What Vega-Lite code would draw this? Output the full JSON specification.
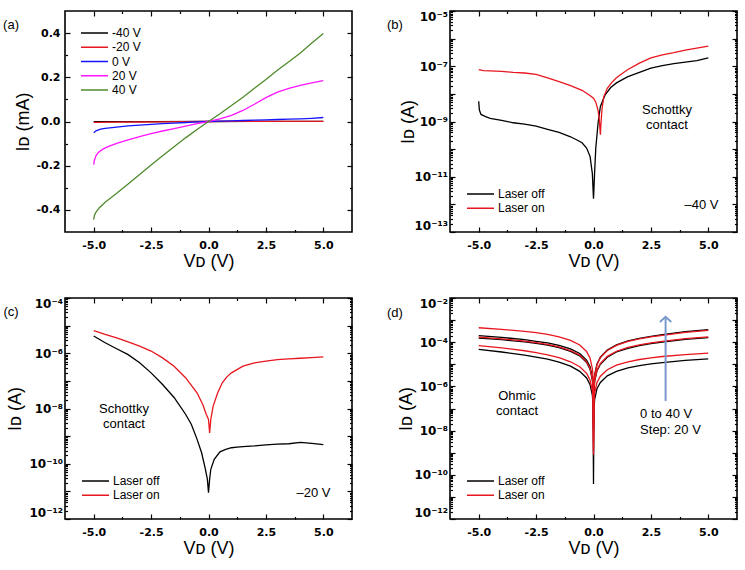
{
  "$schema": "https://vega.github.io/schema/vega-lite/v6.json",
  "background": "white",
  "padding": {"left": 2, "top": 9, "right": 0, "bottom": 0},
  "columns": 2,
  "spacing": {"row": 25, "column": 32},
  "resolve": {"scale": {"x": "independent", "y": "independent", "color": "independent"}, "legend": {"color": "independent"}},
  "config": {
    "font": "Liberation Sans",
    "view": {"stroke": "#000000", "strokeWidth": 1.6},
    "axis": {"grid": false, "domain": false, "tickColor": "#000000", "tickWidth": 1.2, "labelFont": "DejaVu Sans", "labelFontWeight": "bold", "labelFontSize": 11, "labelColor": "#000000", "titleFont": "Liberation Sans", "titleFontWeight": "normal", "titleFontSize": 18, "titleColor": "#000000", "labelOverlap": false, "labelFlush": false},
    "legend": {"symbolType": "stroke", "symbolSize": 729, "symbolStrokeWidth": 1.5, "clipHeight": 14, "rowPadding": 0.25, "padding": 0, "labelFont": "Liberation Sans", "labelFontSize": 12, "labelColor": "#000000", "labelOffset": 3},
    "text": {"font": "Liberation Sans", "fontSize": 13, "color": "#000000"}
  },
  "datasets": {
    "a": [
      {"vg": "-40 V", "vd": -5, "id": -0.001}, {"vg": "-40 V", "vd": -2.5, "id": -0.0006}, {"vg": "-40 V", "vd": 0, "id": 0}, {"vg": "-40 V", "vd": 2.5, "id": 0.0003}, {"vg": "-40 V", "vd": 5, "id": 0.0005},
      {"vg": "-20 V", "vd": -5, "id": -0.004}, {"vg": "-20 V", "vd": -4, "id": -0.003}, {"vg": "-20 V", "vd": -3, "id": -0.0022}, {"vg": "-20 V", "vd": -2, "id": -0.0015}, {"vg": "-20 V", "vd": -1, "id": -0.0008}, {"vg": "-20 V", "vd": 0, "id": 0}, {"vg": "-20 V", "vd": 1, "id": 0.0003}, {"vg": "-20 V", "vd": 2, "id": 0.0005}, {"vg": "-20 V", "vd": 3, "id": 0.0007}, {"vg": "-20 V", "vd": 4, "id": 0.0008}, {"vg": "-20 V", "vd": 5, "id": 0.001},
      {"vg": "0 V", "vd": -5, "id": -0.051}, {"vg": "0 V", "vd": -4.9, "id": -0.042}, {"vg": "0 V", "vd": -4.7, "id": -0.035}, {"vg": "0 V", "vd": -4.5, "id": -0.031}, {"vg": "0 V", "vd": -4, "id": -0.025}, {"vg": "0 V", "vd": -3.5, "id": -0.02}, {"vg": "0 V", "vd": -3, "id": -0.016}, {"vg": "0 V", "vd": -2.5, "id": -0.013}, {"vg": "0 V", "vd": -2, "id": -0.01}, {"vg": "0 V", "vd": -1.5, "id": -0.007}, {"vg": "0 V", "vd": -1, "id": -0.0045}, {"vg": "0 V", "vd": -0.5, "id": -0.002}, {"vg": "0 V", "vd": 0, "id": 0}, {"vg": "0 V", "vd": 0.5, "id": 0.0015}, {"vg": "0 V", "vd": 1, "id": 0.003}, {"vg": "0 V", "vd": 1.5, "id": 0.0045}, {"vg": "0 V", "vd": 2, "id": 0.006}, {"vg": "0 V", "vd": 2.5, "id": 0.0075}, {"vg": "0 V", "vd": 3, "id": 0.009}, {"vg": "0 V", "vd": 3.5, "id": 0.0105}, {"vg": "0 V", "vd": 4, "id": 0.012}, {"vg": "0 V", "vd": 4.5, "id": 0.0145}, {"vg": "0 V", "vd": 5, "id": 0.018},
      {"vg": "20 V", "vd": -5, "id": -0.195}, {"vg": "20 V", "vd": -4.97, "id": -0.175}, {"vg": "20 V", "vd": -4.9, "id": -0.155}, {"vg": "20 V", "vd": -4.8, "id": -0.14}, {"vg": "20 V", "vd": -4.6, "id": -0.125}, {"vg": "20 V", "vd": -4.4, "id": -0.115}, {"vg": "20 V", "vd": -4, "id": -0.099}, {"vg": "20 V", "vd": -3.5, "id": -0.083}, {"vg": "20 V", "vd": -3, "id": -0.068}, {"vg": "20 V", "vd": -2.5, "id": -0.055}, {"vg": "20 V", "vd": -2, "id": -0.043}, {"vg": "20 V", "vd": -1.5, "id": -0.032}, {"vg": "20 V", "vd": -1, "id": -0.021}, {"vg": "20 V", "vd": -0.5, "id": -0.01}, {"vg": "20 V", "vd": 0, "id": 0}, {"vg": "20 V", "vd": 0.5, "id": 0.012}, {"vg": "20 V", "vd": 1, "id": 0.028}, {"vg": "20 V", "vd": 1.5, "id": 0.05}, {"vg": "20 V", "vd": 2, "id": 0.078}, {"vg": "20 V", "vd": 2.5, "id": 0.108}, {"vg": "20 V", "vd": 3, "id": 0.133}, {"vg": "20 V", "vd": 3.5, "id": 0.15}, {"vg": "20 V", "vd": 4, "id": 0.163}, {"vg": "20 V", "vd": 4.5, "id": 0.175}, {"vg": "20 V", "vd": 5, "id": 0.185},
      {"vg": "40 V", "vd": -5, "id": -0.444}, {"vg": "40 V", "vd": -4.97, "id": -0.425}, {"vg": "40 V", "vd": -4.9, "id": -0.41}, {"vg": "40 V", "vd": -4.75, "id": -0.39}, {"vg": "40 V", "vd": -4.5, "id": -0.365}, {"vg": "40 V", "vd": -4, "id": -0.325}, {"vg": "40 V", "vd": -3.5, "id": -0.283}, {"vg": "40 V", "vd": -3, "id": -0.24}, {"vg": "40 V", "vd": -2.5, "id": -0.197}, {"vg": "40 V", "vd": -2, "id": -0.155}, {"vg": "40 V", "vd": -1.5, "id": -0.114}, {"vg": "40 V", "vd": -1, "id": -0.074}, {"vg": "40 V", "vd": -0.5, "id": -0.036}, {"vg": "40 V", "vd": 0, "id": 0}, {"vg": "40 V", "vd": 0.5, "id": 0.035}, {"vg": "40 V", "vd": 1, "id": 0.072}, {"vg": "40 V", "vd": 1.5, "id": 0.11}, {"vg": "40 V", "vd": 2, "id": 0.15}, {"vg": "40 V", "vd": 2.5, "id": 0.19}, {"vg": "40 V", "vd": 3, "id": 0.232}, {"vg": "40 V", "vd": 3.5, "id": 0.27}, {"vg": "40 V", "vd": 4, "id": 0.31}, {"vg": "40 V", "vd": 4.5, "id": 0.355}, {"vg": "40 V", "vd": 5, "id": 0.398}
    ],
    "b": [
      {"l": "Laser off", "vd": -5, "id": 5.4e-9}, {"l": "Laser off", "vd": -4.97, "id": 2.6e-9}, {"l": "Laser off", "vd": -4.9, "id": 1.8e-9}, {"l": "Laser off", "vd": -4.7, "id": 1.5e-9}, {"l": "Laser off", "vd": -4.5, "id": 1.3e-9}, {"l": "Laser off", "vd": -4, "id": 1.1e-9}, {"l": "Laser off", "vd": -3.5, "id": 9.0e-10}, {"l": "Laser off", "vd": -3, "id": 8.0e-10}, {"l": "Laser off", "vd": -2.5, "id": 6.8e-10}, {"l": "Laser off", "vd": -2, "id": 5.2e-10}, {"l": "Laser off", "vd": -1.5, "id": 4.0e-10}, {"l": "Laser off", "vd": -1, "id": 2.8e-10}, {"l": "Laser off", "vd": -0.7, "id": 2.1e-10}, {"l": "Laser off", "vd": -0.5, "id": 1.7e-10}, {"l": "Laser off", "vd": -0.3, "id": 1.1e-10}, {"l": "Laser off", "vd": -0.15, "id": 5.5e-11}, {"l": "Laser off", "vd": -0.05, "id": 1.3e-11}, {"l": "Laser off", "vd": 0, "id": 1.6e-12}, {"l": "Laser off", "vd": 0.05, "id": 1.5e-11}, {"l": "Laser off", "vd": 0.1, "id": 1.1e-10}, {"l": "Laser off", "vd": 0.2, "id": 9.0e-10}, {"l": "Laser off", "vd": 0.3, "id": 3.5e-9}, {"l": "Laser off", "vd": 0.5, "id": 9.0e-9}, {"l": "Laser off", "vd": 0.75, "id": 1.7e-8}, {"l": "Laser off", "vd": 1, "id": 2.5e-8}, {"l": "Laser off", "vd": 1.5, "id": 4.2e-8}, {"l": "Laser off", "vd": 2, "id": 6.0e-8}, {"l": "Laser off", "vd": 2.5, "id": 8.5e-8}, {"l": "Laser off", "vd": 3, "id": 1.05e-7}, {"l": "Laser off", "vd": 3.5, "id": 1.25e-7}, {"l": "Laser off", "vd": 4, "id": 1.4e-7}, {"l": "Laser off", "vd": 4.5, "id": 1.6e-7}, {"l": "Laser off", "vd": 5, "id": 2.0e-7},
      {"l": "Laser on", "vd": -5, "id": 7.6e-8}, {"l": "Laser on", "vd": -4.8, "id": 7.0e-8}, {"l": "Laser on", "vd": -4.5, "id": 6.8e-8}, {"l": "Laser on", "vd": -4, "id": 6.5e-8}, {"l": "Laser on", "vd": -3.5, "id": 6.0e-8}, {"l": "Laser on", "vd": -3, "id": 5.7e-8}, {"l": "Laser on", "vd": -2.5, "id": 5.1e-8}, {"l": "Laser on", "vd": -2, "id": 3.8e-8}, {"l": "Laser on", "vd": -1.5, "id": 2.8e-8}, {"l": "Laser on", "vd": -1, "id": 2.0e-8}, {"l": "Laser on", "vd": -0.5, "id": 1.35e-8}, {"l": "Laser on", "vd": -0.2, "id": 9.3e-9}, {"l": "Laser on", "vd": 0, "id": 7.0e-9}, {"l": "Laser on", "vd": 0.1, "id": 5.0e-9}, {"l": "Laser on", "vd": 0.2, "id": 2.5e-9}, {"l": "Laser on", "vd": 0.25, "id": 1.2e-9}, {"l": "Laser on", "vd": 0.3, "id": 3.3e-10}, {"l": "Laser on", "vd": 0.33, "id": 1.0e-9}, {"l": "Laser on", "vd": 0.37, "id": 2.8e-9}, {"l": "Laser on", "vd": 0.45, "id": 8.0e-9}, {"l": "Laser on", "vd": 0.6, "id": 1.6e-8}, {"l": "Laser on", "vd": 0.8, "id": 2.6e-8}, {"l": "Laser on", "vd": 1, "id": 3.8e-8}, {"l": "Laser on", "vd": 1.25, "id": 5.5e-8}, {"l": "Laser on", "vd": 1.5, "id": 7.6e-8}, {"l": "Laser on", "vd": 2, "id": 1.3e-7}, {"l": "Laser on", "vd": 2.5, "id": 2.0e-7}, {"l": "Laser on", "vd": 3, "id": 2.6e-7}, {"l": "Laser on", "vd": 3.5, "id": 3.1e-7}, {"l": "Laser on", "vd": 4, "id": 3.8e-7}, {"l": "Laser on", "vd": 4.5, "id": 4.5e-7}, {"l": "Laser on", "vd": 5, "id": 5.4e-7}
    ],
    "c": [
      {"l": "Laser off", "vd": -5, "id": 4.2e-6}, {"l": "Laser off", "vd": -4.5, "id": 2.4e-6}, {"l": "Laser off", "vd": -4, "id": 1.45e-6}, {"l": "Laser off", "vd": -3.5, "id": 8.9e-7}, {"l": "Laser off", "vd": -3, "id": 4.5e-7}, {"l": "Laser off", "vd": -2.5, "id": 1.95e-7}, {"l": "Laser off", "vd": -2, "id": 7.4e-8}, {"l": "Laser off", "vd": -1.5, "id": 2.5e-8}, {"l": "Laser off", "vd": -1, "id": 6.2e-9}, {"l": "Laser off", "vd": -0.75, "id": 2.7e-9}, {"l": "Laser off", "vd": -0.5, "id": 7.8e-10}, {"l": "Laser off", "vd": -0.3, "id": 2.5e-10}, {"l": "Laser off", "vd": -0.15, "id": 7.2e-11}, {"l": "Laser off", "vd": -0.05, "id": 2.8e-11}, {"l": "Laser off", "vd": 0, "id": 9.0e-12}, {"l": "Laser off", "vd": 0.05, "id": 2.8e-11}, {"l": "Laser off", "vd": 0.1, "id": 6.3e-11}, {"l": "Laser off", "vd": 0.25, "id": 1.45e-10}, {"l": "Laser off", "vd": 0.5, "id": 2.7e-10}, {"l": "Laser off", "vd": 0.75, "id": 3.3e-10}, {"l": "Laser off", "vd": 1, "id": 3.8e-10}, {"l": "Laser off", "vd": 1.25, "id": 4.0e-10}, {"l": "Laser off", "vd": 1.5, "id": 4.2e-10}, {"l": "Laser off", "vd": 2, "id": 4.4e-10}, {"l": "Laser off", "vd": 2.5, "id": 4.8e-10}, {"l": "Laser off", "vd": 3, "id": 5.1e-10}, {"l": "Laser off", "vd": 3.5, "id": 5.3e-10}, {"l": "Laser off", "vd": 4, "id": 5.9e-10}, {"l": "Laser off", "vd": 4.5, "id": 5.5e-10}, {"l": "Laser off", "vd": 5, "id": 4.9e-10},
      {"l": "Laser on", "vd": -5, "id": 6.6e-6}, {"l": "Laser on", "vd": -4.5, "id": 4.8e-6}, {"l": "Laser on", "vd": -4, "id": 3.6e-6}, {"l": "Laser on", "vd": -3.5, "id": 2.6e-6}, {"l": "Laser on", "vd": -3, "id": 1.8e-6}, {"l": "Laser on", "vd": -2.5, "id": 1.2e-6}, {"l": "Laser on", "vd": -2, "id": 6.8e-7}, {"l": "Laser on", "vd": -1.5, "id": 3.4e-7}, {"l": "Laser on", "vd": -1, "id": 1.3e-7}, {"l": "Laser on", "vd": -0.5, "id": 3.7e-8}, {"l": "Laser on", "vd": -0.25, "id": 1.4e-8}, {"l": "Laser on", "vd": -0.1, "id": 6.2e-9}, {"l": "Laser on", "vd": 0, "id": 4.0e-9}, {"l": "Laser on", "vd": 0.05, "id": 1.3e-9}, {"l": "Laser on", "vd": 0.1, "id": 4.0e-9}, {"l": "Laser on", "vd": 0.2, "id": 1.2e-8}, {"l": "Laser on", "vd": 0.4, "id": 3.7e-8}, {"l": "Laser on", "vd": 0.6, "id": 8.5e-8}, {"l": "Laser on", "vd": 0.8, "id": 1.4e-7}, {"l": "Laser on", "vd": 1, "id": 1.95e-7}, {"l": "Laser on", "vd": 1.5, "id": 3.4e-7}, {"l": "Laser on", "vd": 2, "id": 4.5e-7}, {"l": "Laser on", "vd": 2.5, "id": 5.2e-7}, {"l": "Laser on", "vd": 3, "id": 5.9e-7}, {"l": "Laser on", "vd": 3.5, "id": 6.3e-7}, {"l": "Laser on", "vd": 4, "id": 6.6e-7}, {"l": "Laser on", "vd": 4.5, "id": 7.0e-7}, {"l": "Laser on", "vd": 5, "id": 7.4e-7}
    ],
    "d": [
      {"g": "0 V", "l": "Laser off", "vd": -5, "id": 4.7e-5}, {"g": "0 V", "l": "Laser off", "vd": -4, "id": 3.6e-5}, {"g": "0 V", "l": "Laser off", "vd": -3, "id": 2.6e-5}, {"g": "0 V", "l": "Laser off", "vd": -2.5, "id": 2.1e-5}, {"g": "0 V", "l": "Laser off", "vd": -2, "id": 1.7e-5}, {"g": "0 V", "l": "Laser off", "vd": -1.5, "id": 1.25e-5}, {"g": "0 V", "l": "Laser off", "vd": -1, "id": 8.2e-6}, {"g": "0 V", "l": "Laser off", "vd": -0.6, "id": 4.8e-6}, {"g": "0 V", "l": "Laser off", "vd": -0.3, "id": 2.4e-6}, {"g": "0 V", "l": "Laser off", "vd": -0.15, "id": 1.2e-6}, {"g": "0 V", "l": "Laser off", "vd": -0.05, "id": 4.0e-7}, {"g": "0 V", "l": "Laser off", "vd": -0.02, "id": 1.6e-7}, {"g": "0 V", "l": "Laser off", "vd": 0, "id": 3.8e-11}, {"g": "0 V", "l": "Laser off", "vd": 0.02, "id": 1.0e-7}, {"g": "0 V", "l": "Laser off", "vd": 0.05, "id": 2.6e-7}, {"g": "0 V", "l": "Laser off", "vd": 0.15, "id": 7.8e-7}, {"g": "0 V", "l": "Laser off", "vd": 0.3, "id": 1.5e-6}, {"g": "0 V", "l": "Laser off", "vd": 0.6, "id": 3.0e-6}, {"g": "0 V", "l": "Laser off", "vd": 1, "id": 4.8e-6}, {"g": "0 V", "l": "Laser off", "vd": 1.5, "id": 6.9e-6}, {"g": "0 V", "l": "Laser off", "vd": 2, "id": 8.8e-6}, {"g": "0 V", "l": "Laser off", "vd": 2.5, "id": 1.05e-5}, {"g": "0 V", "l": "Laser off", "vd": 3, "id": 1.2e-5}, {"g": "0 V", "l": "Laser off", "vd": 4, "id": 1.5e-5}, {"g": "0 V", "l": "Laser off", "vd": 5, "id": 1.75e-5},
      {"g": "20 V", "l": "Laser off", "vd": -5, "id": 1.55e-4}, {"g": "20 V", "l": "Laser off", "vd": -4, "id": 1.3e-4}, {"g": "20 V", "l": "Laser off", "vd": -3, "id": 1.03e-4}, {"g": "20 V", "l": "Laser off", "vd": -2.5, "id": 8.8e-5}, {"g": "20 V", "l": "Laser off", "vd": -2, "id": 7.3e-5}, {"g": "20 V", "l": "Laser off", "vd": -1.5, "id": 5.7e-5}, {"g": "20 V", "l": "Laser off", "vd": -1, "id": 3.85e-5}, {"g": "20 V", "l": "Laser off", "vd": -0.6, "id": 2.4e-5}, {"g": "20 V", "l": "Laser off", "vd": -0.3, "id": 1.2e-5}, {"g": "20 V", "l": "Laser off", "vd": -0.15, "id": 6.0e-6}, {"g": "20 V", "l": "Laser off", "vd": -0.05, "id": 2.0e-6}, {"g": "20 V", "l": "Laser off", "vd": -0.02, "id": 8.0e-7}, {"g": "20 V", "l": "Laser off", "vd": 0, "id": 1.0e-8}, {"g": "20 V", "l": "Laser off", "vd": 0.02, "id": 6.5e-7}, {"g": "20 V", "l": "Laser off", "vd": 0.05, "id": 1.65e-6}, {"g": "20 V", "l": "Laser off", "vd": 0.15, "id": 5.0e-6}, {"g": "20 V", "l": "Laser off", "vd": 0.3, "id": 1.0e-5}, {"g": "20 V", "l": "Laser off", "vd": 0.6, "id": 2.1e-5}, {"g": "20 V", "l": "Laser off", "vd": 1, "id": 3.6e-5}, {"g": "20 V", "l": "Laser off", "vd": 1.5, "id": 5.3e-5}, {"g": "20 V", "l": "Laser off", "vd": 2, "id": 7.0e-5}, {"g": "20 V", "l": "Laser off", "vd": 2.5, "id": 8.6e-5}, {"g": "20 V", "l": "Laser off", "vd": 3, "id": 1.02e-4}, {"g": "20 V", "l": "Laser off", "vd": 4, "id": 1.35e-4}, {"g": "20 V", "l": "Laser off", "vd": 5, "id": 1.62e-4},
      {"g": "40 V", "l": "Laser off", "vd": -5, "id": 2.0e-4}, {"g": "40 V", "l": "Laser off", "vd": -4, "id": 1.65e-4}, {"g": "40 V", "l": "Laser off", "vd": -3, "id": 1.3e-4}, {"g": "40 V", "l": "Laser off", "vd": -2.5, "id": 1.1e-4}, {"g": "40 V", "l": "Laser off", "vd": -2, "id": 9.3e-5}, {"g": "40 V", "l": "Laser off", "vd": -1.5, "id": 7.2e-5}, {"g": "40 V", "l": "Laser off", "vd": -1, "id": 5.0e-5}, {"g": "40 V", "l": "Laser off", "vd": -0.6, "id": 3.1e-5}, {"g": "40 V", "l": "Laser off", "vd": -0.3, "id": 1.55e-5}, {"g": "40 V", "l": "Laser off", "vd": -0.15, "id": 7.8e-6}, {"g": "40 V", "l": "Laser off", "vd": -0.05, "id": 2.6e-6}, {"g": "40 V", "l": "Laser off", "vd": -0.02, "id": 1.0e-6}, {"g": "40 V", "l": "Laser off", "vd": 0, "id": 2.0e-8}, {"g": "40 V", "l": "Laser off", "vd": 0.02, "id": 1.3e-6}, {"g": "40 V", "l": "Laser off", "vd": 0.05, "id": 3.3e-6}, {"g": "40 V", "l": "Laser off", "vd": 0.15, "id": 1.0e-5}, {"g": "40 V", "l": "Laser off", "vd": 0.3, "id": 2.1e-5}, {"g": "40 V", "l": "Laser off", "vd": 0.6, "id": 4.4e-5}, {"g": "40 V", "l": "Laser off", "vd": 1, "id": 7.6e-5}, {"g": "40 V", "l": "Laser off", "vd": 1.5, "id": 1.15e-4}, {"g": "40 V", "l": "Laser off", "vd": 2, "id": 1.5e-4}, {"g": "40 V", "l": "Laser off", "vd": 2.5, "id": 1.85e-4}, {"g": "40 V", "l": "Laser off", "vd": 3, "id": 2.2e-4}, {"g": "40 V", "l": "Laser off", "vd": 4, "id": 3.0e-4}, {"g": "40 V", "l": "Laser off", "vd": 5, "id": 3.7e-4},
      {"g": "0 V", "l": "Laser on", "vd": -5, "id": 7.0e-5}, {"g": "0 V", "l": "Laser on", "vd": -4, "id": 5.5e-5}, {"g": "0 V", "l": "Laser on", "vd": -3, "id": 4.1e-5}, {"g": "0 V", "l": "Laser on", "vd": -2.5, "id": 3.4e-5}, {"g": "0 V", "l": "Laser on", "vd": -2, "id": 2.7e-5}, {"g": "0 V", "l": "Laser on", "vd": -1.5, "id": 2.0e-5}, {"g": "0 V", "l": "Laser on", "vd": -1, "id": 1.3e-5}, {"g": "0 V", "l": "Laser on", "vd": -0.6, "id": 7.8e-6}, {"g": "0 V", "l": "Laser on", "vd": -0.3, "id": 3.9e-6}, {"g": "0 V", "l": "Laser on", "vd": -0.15, "id": 1.95e-6}, {"g": "0 V", "l": "Laser on", "vd": -0.05, "id": 6.5e-7}, {"g": "0 V", "l": "Laser on", "vd": -0.02, "id": 2.6e-7}, {"g": "0 V", "l": "Laser on", "vd": 0, "id": 8.0e-10}, {"g": "0 V", "l": "Laser on", "vd": 0.02, "id": 2.0e-7}, {"g": "0 V", "l": "Laser on", "vd": 0.05, "id": 5.0e-7}, {"g": "0 V", "l": "Laser on", "vd": 0.15, "id": 1.5e-6}, {"g": "0 V", "l": "Laser on", "vd": 0.3, "id": 2.9e-6}, {"g": "0 V", "l": "Laser on", "vd": 0.6, "id": 5.7e-6}, {"g": "0 V", "l": "Laser on", "vd": 1, "id": 9.2e-6}, {"g": "0 V", "l": "Laser on", "vd": 1.5, "id": 1.3e-5}, {"g": "0 V", "l": "Laser on", "vd": 2, "id": 1.65e-5}, {"g": "0 V", "l": "Laser on", "vd": 2.5, "id": 1.95e-5}, {"g": "0 V", "l": "Laser on", "vd": 3, "id": 2.25e-5}, {"g": "0 V", "l": "Laser on", "vd": 4, "id": 2.75e-5}, {"g": "0 V", "l": "Laser on", "vd": 5, "id": 3.2e-5},
      {"g": "20 V", "l": "Laser on", "vd": -5, "id": 1.7e-4}, {"g": "20 V", "l": "Laser on", "vd": -4, "id": 1.42e-4}, {"g": "20 V", "l": "Laser on", "vd": -3, "id": 1.12e-4}, {"g": "20 V", "l": "Laser on", "vd": -2.5, "id": 9.6e-5}, {"g": "20 V", "l": "Laser on", "vd": -2, "id": 8.0e-5}, {"g": "20 V", "l": "Laser on", "vd": -1.5, "id": 6.2e-5}, {"g": "20 V", "l": "Laser on", "vd": -1, "id": 4.2e-5}, {"g": "20 V", "l": "Laser on", "vd": -0.6, "id": 2.6e-5}, {"g": "20 V", "l": "Laser on", "vd": -0.3, "id": 1.3e-5}, {"g": "20 V", "l": "Laser on", "vd": -0.15, "id": 6.5e-6}, {"g": "20 V", "l": "Laser on", "vd": -0.05, "id": 2.2e-6}, {"g": "20 V", "l": "Laser on", "vd": -0.02, "id": 8.8e-7}, {"g": "20 V", "l": "Laser on", "vd": 0, "id": 3.0e-9}, {"g": "20 V", "l": "Laser on", "vd": 0.02, "id": 7.0e-7}, {"g": "20 V", "l": "Laser on", "vd": 0.05, "id": 1.8e-6}, {"g": "20 V", "l": "Laser on", "vd": 0.15, "id": 5.4e-6}, {"g": "20 V", "l": "Laser on", "vd": 0.3, "id": 1.1e-5}, {"g": "20 V", "l": "Laser on", "vd": 0.6, "id": 2.3e-5}, {"g": "20 V", "l": "Laser on", "vd": 1, "id": 3.9e-5}, {"g": "20 V", "l": "Laser on", "vd": 1.5, "id": 5.8e-5}, {"g": "20 V", "l": "Laser on", "vd": 2, "id": 7.6e-5}, {"g": "20 V", "l": "Laser on", "vd": 2.5, "id": 9.3e-5}, {"g": "20 V", "l": "Laser on", "vd": 3, "id": 1.1e-4}, {"g": "20 V", "l": "Laser on", "vd": 4, "id": 1.45e-4}, {"g": "20 V", "l": "Laser on", "vd": 5, "id": 1.75e-4},
      {"g": "40 V", "l": "Laser on", "vd": -5, "id": 4.5e-4}, {"g": "40 V", "l": "Laser on", "vd": -4, "id": 3.8e-4}, {"g": "40 V", "l": "Laser on", "vd": -3, "id": 3.1e-4}, {"g": "40 V", "l": "Laser on", "vd": -2.5, "id": 2.7e-4}, {"g": "40 V", "l": "Laser on", "vd": -2, "id": 2.25e-4}, {"g": "40 V", "l": "Laser on", "vd": -1.5, "id": 1.75e-4}, {"g": "40 V", "l": "Laser on", "vd": -1, "id": 1.2e-4}, {"g": "40 V", "l": "Laser on", "vd": -0.6, "id": 7.5e-5}, {"g": "40 V", "l": "Laser on", "vd": -0.3, "id": 3.8e-5}, {"g": "40 V", "l": "Laser on", "vd": -0.15, "id": 1.9e-5}, {"g": "40 V", "l": "Laser on", "vd": -0.05, "id": 6.4e-6}, {"g": "40 V", "l": "Laser on", "vd": -0.02, "id": 2.6e-6}, {"g": "40 V", "l": "Laser on", "vd": 0, "id": 1.2e-9}, {"g": "40 V", "l": "Laser on", "vd": 0.02, "id": 1.3e-6}, {"g": "40 V", "l": "Laser on", "vd": 0.05, "id": 3.2e-6}, {"g": "40 V", "l": "Laser on", "vd": 0.15, "id": 9.5e-6}, {"g": "40 V", "l": "Laser on", "vd": 0.3, "id": 2.0e-5}, {"g": "40 V", "l": "Laser on", "vd": 0.6, "id": 4.2e-5}, {"g": "40 V", "l": "Laser on", "vd": 1, "id": 7.2e-5}, {"g": "40 V", "l": "Laser on", "vd": 1.5, "id": 1.08e-4}, {"g": "40 V", "l": "Laser on", "vd": 2, "id": 1.42e-4}, {"g": "40 V", "l": "Laser on", "vd": 2.5, "id": 1.75e-4}, {"g": "40 V", "l": "Laser on", "vd": 3, "id": 2.05e-4}, {"g": "40 V", "l": "Laser on", "vd": 4, "id": 2.8e-4}, {"g": "40 V", "l": "Laser on", "vd": 5, "id": 3.4e-4}
    ],
    "lab_a": [{"vd": -8.6, "id": 0.438, "label": "(a)"}],
    "lab_b": [{"vd": -8.65, "id": 3.1e-6, "label": "(b)"}, {"vd": 3.2, "id": 2.6e-9, "label": "Schottky\ncontact"}, {"vd": 4.7, "id": 9.3e-13, "label": "–40 V"}],
    "lab_c": [{"vd": -8.6, "id": 3.0e-5, "label": "(c)"}, {"vd": -3.68, "id": 1.0e-8, "label": "Schottky\ncontact"}, {"vd": 4.57, "id": 8.9e-12, "label": "–20 V"}],
    "lab_d": [{"vd": -8.65, "id": 2.2e-3, "label": "(d)"}, {"vd": -3.33, "id": 3.85e-7, "label": "Ohmic\ncontact"}],
    "lab_d2": [{"vd": 2.03, "id": 5.7e-8, "label": "0 to 40 V\nStep: 20 V"}],
    "arrow_d": [{"vd": 3.14, "y1": 2.2e-7, "y2": 1.4e-3}]
  },
  "concat": [
    {
      "width": 287, "height": 221,
      "resolve": {"axis": {"x": "independent", "y": "independent"}},
      "layer": [
        {
          "data": {"name": "a"},
          "mark": {"type": "line", "strokeWidth": 1.3},
          "encoding": {
            "x": {"field": "vd", "type": "quantitative", "scale": {"domain": [-6.25, 6.25], "nice": false, "zero": false}, "axis": {"orient": "bottom", "values": [-5, -2.5, 0, 2.5, 5], "labelExpr": "datum.value < 0 ? '-' + format(-datum.value, '.1f') : format(datum.value, '.1f')", "tickSize": -5, "labelPadding": 12, "title": "Vᴅ (V)", "titlePadding": 2}},
            "y": {"field": "id", "type": "quantitative", "scale": {"domain": [-0.5, 0.5], "nice": false, "zero": false}, "axis": {"orient": "left", "values": [-0.4, -0.2, 0, 0.2, 0.4], "labelExpr": "datum.value < 0 ? '-' + format(-datum.value, '.1f') : format(datum.value, '.1f')", "tickSize": -5, "labelPadding": 10, "title": "Iᴅ (mA)", "titlePadding": 3.5}},
            "color": {"field": "vg", "type": "nominal", "scale": {"domain": ["-40 V", "-20 V", "0 V", "20 V", "40 V"], "range": ["#000000", "#e8161e", "#1414ff", "#ff14ff", "#4f8a2b"]}, "legend": {"title": null, "orient": "top-left", "offset": 15}}
          }
        },
        {
          "data": {"values": [{}]},
          "mark": {"type": "point", "opacity": 0},
          "encoding": {
            "x": {"datum": 0, "type": "quantitative", "axis": {"orient": "bottom", "values": [-3.75, -1.25, 1.25, 3.75], "tickSize": -2.5, "labels": false, "title": null}},
            "y": {"datum": 0, "type": "quantitative", "axis": {"orient": "left", "values": [-0.3, -0.1, 0.1, 0.3], "tickSize": -2.5, "labels": false, "title": null}}
          }
        },
        {
          "data": {"values": [{}]},
          "mark": {"type": "point", "opacity": 0},
          "encoding": {
            "x": {"datum": 0, "type": "quantitative", "axis": {"orient": "top", "values": [-5, -2.5, 0, 2.5, 5], "tickSize": -5, "labels": false, "title": null}},
            "y": {"datum": 0, "type": "quantitative", "axis": {"orient": "right", "values": [-0.4, -0.2, 0, 0.2, 0.4], "tickSize": -5, "labels": false, "title": null}}
          }
        },
        {
          "data": {"values": [{}]},
          "mark": {"type": "point", "opacity": 0},
          "encoding": {
            "x": {"datum": 0, "type": "quantitative", "axis": {"orient": "top", "values": [-3.75, -1.25, 1.25, 3.75], "tickSize": -2.5, "labels": false, "title": null}},
            "y": {"datum": 0, "type": "quantitative", "axis": {"orient": "right", "values": [-0.3, -0.1, 0.1, 0.3], "tickSize": -2.5, "labels": false, "title": null}}
          }
        },
        {
          "data": {"name": "lab_a"},
          "mark": {"type": "text", "fontSize": 13, "align": "center", "baseline": "middle"},
          "encoding": {
            "x": {"field": "vd", "type": "quantitative", "axis": null},
            "y": {"field": "id", "type": "quantitative", "axis": null},
            "text": {"field": "label"}
          }
        }
      ]
    },
    {
      "width": 287, "height": 221,
      "resolve": {"axis": {"x": "independent", "y": "independent"}},
      "layer": [
        {
          "data": {"name": "b"},
          "mark": {"type": "line", "strokeWidth": 1.3},
          "encoding": {
            "x": {"field": "vd", "type": "quantitative", "scale": {"domain": [-6.25, 6.25], "nice": false, "zero": false}, "axis": {"orient": "bottom", "values": [-5, -2.5, 0, 2.5, 5], "labelExpr": "datum.value < 0 ? '-' + format(-datum.value, '.1f') : format(datum.value, '.1f')", "tickSize": -5, "labelPadding": 12, "title": "Vᴅ (V)", "titlePadding": 2}},
            "y": {"field": "id", "type": "quantitative", "scale": {"type": "log", "domain": [1e-13, 1e-5], "nice": false}, "axis": {"orient": "left", "values": [1e-13, 1e-12, 1e-11, 1e-10, 1e-9, 1e-8, 1e-7, 1e-6, 1e-5], "labelExpr": "abs(round(log(datum.value)/LN10)) % 2 == 1 ? '10⁻' + (abs(round(log(datum.value)/LN10)) >= 10 ? '¹' : '') + ['⁰','¹','²','³','⁴','⁵','⁶','⁷','⁸','⁹'][abs(round(log(datum.value)/LN10)) % 10] : ''", "labelFlush": true, "labelFontSize": 12, "tickSize": -5, "labelPadding": 7.5, "title": "Iᴅ (A)", "titlePadding": -4}},
            "color": {"field": "l", "type": "nominal", "scale": {"domain": ["Laser off", "Laser on"], "range": ["#000000", "#e8161e"]}, "legend": {"title": null, "orient": "bottom-left", "offset": 16}}
          }
        },
        {
          "data": {"values": [{}]},
          "mark": {"type": "point", "opacity": 0},
          "encoding": {
            "x": {"datum": 0, "type": "quantitative", "axis": {"orient": "bottom", "values": [-3.75, -1.25, 1.25, 3.75], "tickSize": -2.5, "labels": false, "title": null}},
            "y": {"datum": 1e-9, "type": "quantitative", "axis": {"orient": "left", "values": [2e-13,3e-13,4e-13,5e-13,6e-13,7e-13,8e-13,9e-13,2e-12,3e-12,4e-12,5e-12,6e-12,7e-12,8e-12,9e-12,2e-11,3e-11,4e-11,5e-11,6e-11,7e-11,8e-11,9e-11,2e-10,3e-10,4e-10,5e-10,6e-10,7e-10,8e-10,9e-10,2e-9,3e-9,4e-9,5e-9,6e-9,7e-9,8e-9,9e-9,2e-8,3e-8,4e-8,5e-8,6e-8,7e-8,8e-8,9e-8,2e-7,3e-7,4e-7,5e-7,6e-7,7e-7,8e-7,9e-7,2e-6,3e-6,4e-6,5e-6,6e-6,7e-6,8e-6,9e-6], "tickSize": -2.5, "labels": false, "title": null}}
          }
        },
        {
          "data": {"values": [{}]},
          "mark": {"type": "point", "opacity": 0},
          "encoding": {
            "x": {"datum": 0, "type": "quantitative", "axis": {"orient": "top", "values": [-5, -2.5, 0, 2.5, 5], "tickSize": -5, "labels": false, "title": null}},
            "y": {"datum": 1e-9, "type": "quantitative", "axis": {"orient": "right", "values": [1e-13, 1e-12, 1e-11, 1e-10, 1e-9, 1e-8, 1e-7, 1e-6, 1e-5], "tickSize": -5, "labels": false, "title": null}}
          }
        },
        {
          "data": {"values": [{}]},
          "mark": {"type": "point", "opacity": 0},
          "encoding": {
            "x": {"datum": 0, "type": "quantitative", "axis": {"orient": "top", "values": [-3.75, -1.25, 1.25, 3.75], "tickSize": -2.5, "labels": false, "title": null}},
            "y": {"datum": 1e-9, "type": "quantitative", "axis": {"orient": "right", "values": [2e-13,3e-13,4e-13,5e-13,6e-13,7e-13,8e-13,9e-13,2e-12,3e-12,4e-12,5e-12,6e-12,7e-12,8e-12,9e-12,2e-11,3e-11,4e-11,5e-11,6e-11,7e-11,8e-11,9e-11,2e-10,3e-10,4e-10,5e-10,6e-10,7e-10,8e-10,9e-10,2e-9,3e-9,4e-9,5e-9,6e-9,7e-9,8e-9,9e-9,2e-8,3e-8,4e-8,5e-8,6e-8,7e-8,8e-8,9e-8,2e-7,3e-7,4e-7,5e-7,6e-7,7e-7,8e-7,9e-7,2e-6,3e-6,4e-6,5e-6,6e-6,7e-6,8e-6,9e-6], "tickSize": -2.5, "labels": false, "title": null}}
          }
        },
        {
          "data": {"name": "lab_b"},
          "mark": {"type": "text", "fontSize": 13, "align": "center", "baseline": "middle", "lineBreak": "\n", "lineHeight": 15},
          "encoding": {
            "x": {"field": "vd", "type": "quantitative", "axis": null},
            "y": {"field": "id", "type": "quantitative", "axis": null},
            "text": {"field": "label"}
          }
        }
      ]
    },
    {
      "width": 287, "height": 221,
      "resolve": {"axis": {"x": "independent", "y": "independent"}},
      "layer": [
        {
          "data": {"name": "c"},
          "mark": {"type": "line", "strokeWidth": 1.3},
          "encoding": {
            "x": {"field": "vd", "type": "quantitative", "scale": {"domain": [-6.25, 6.25], "nice": false, "zero": false}, "axis": {"orient": "bottom", "values": [-5, -2.5, 0, 2.5, 5], "labelExpr": "datum.value < 0 ? '-' + format(-datum.value, '.1f') : format(datum.value, '.1f')", "tickSize": -5, "labelPadding": 12, "title": "Vᴅ (V)", "titlePadding": 2}},
            "y": {"field": "id", "type": "quantitative", "scale": {"type": "log", "domain": [1e-12, 1e-4], "nice": false}, "axis": {"orient": "left", "values": [1e-12, 1e-11, 1e-10, 1e-9, 1e-8, 1e-7, 1e-6, 1e-5, 1e-4], "labelExpr": "abs(round(log(datum.value)/LN10)) % 2 == 0 ? '10⁻' + (abs(round(log(datum.value)/LN10)) >= 10 ? '¹' : '') + ['⁰','¹','²','³','⁴','⁵','⁶','⁷','⁸','⁹'][abs(round(log(datum.value)/LN10)) % 10] : ''", "labelFlush": true, "labelFontSize": 12, "tickSize": -5, "labelPadding": 7.5, "title": "Iᴅ (A)", "titlePadding": 4}},
            "color": {"field": "l", "type": "nominal", "scale": {"domain": ["Laser off", "Laser on"], "range": ["#000000", "#e8161e"]}, "legend": {"title": null, "orient": "bottom-left", "offset": 16}}
          }
        },
        {
          "data": {"values": [{}]},
          "mark": {"type": "point", "opacity": 0},
          "encoding": {
            "x": {"datum": 0, "type": "quantitative", "axis": {"orient": "bottom", "values": [-3.75, -1.25, 1.25, 3.75], "tickSize": -2.5, "labels": false, "title": null}},
            "y": {"datum": 1e-8, "type": "quantitative", "axis": {"orient": "left", "values": [2e-12,3e-12,4e-12,5e-12,6e-12,7e-12,8e-12,9e-12,2e-11,3e-11,4e-11,5e-11,6e-11,7e-11,8e-11,9e-11,2e-10,3e-10,4e-10,5e-10,6e-10,7e-10,8e-10,9e-10,2e-9,3e-9,4e-9,5e-9,6e-9,7e-9,8e-9,9e-9,2e-8,3e-8,4e-8,5e-8,6e-8,7e-8,8e-8,9e-8,2e-7,3e-7,4e-7,5e-7,6e-7,7e-7,8e-7,9e-7,2e-6,3e-6,4e-6,5e-6,6e-6,7e-6,8e-6,9e-6,2e-5,3e-5,4e-5,5e-5,6e-5,7e-5,8e-5,9e-5], "tickSize": -2.5, "labels": false, "title": null}}
          }
        },
        {
          "data": {"values": [{}]},
          "mark": {"type": "point", "opacity": 0},
          "encoding": {
            "x": {"datum": 0, "type": "quantitative", "axis": {"orient": "top", "values": [-5, -2.5, 0, 2.5, 5], "tickSize": -5, "labels": false, "title": null}},
            "y": {"datum": 1e-8, "type": "quantitative", "axis": {"orient": "right", "values": [1e-12, 1e-11, 1e-10, 1e-9, 1e-8, 1e-7, 1e-6, 1e-5, 1e-4], "tickSize": -5, "labels": false, "title": null}}
          }
        },
        {
          "data": {"values": [{}]},
          "mark": {"type": "point", "opacity": 0},
          "encoding": {
            "x": {"datum": 0, "type": "quantitative", "axis": {"orient": "top", "values": [-3.75, -1.25, 1.25, 3.75], "tickSize": -2.5, "labels": false, "title": null}},
            "y": {"datum": 1e-8, "type": "quantitative", "axis": {"orient": "right", "values": [2e-12,3e-12,4e-12,5e-12,6e-12,7e-12,8e-12,9e-12,2e-11,3e-11,4e-11,5e-11,6e-11,7e-11,8e-11,9e-11,2e-10,3e-10,4e-10,5e-10,6e-10,7e-10,8e-10,9e-10,2e-9,3e-9,4e-9,5e-9,6e-9,7e-9,8e-9,9e-9,2e-8,3e-8,4e-8,5e-8,6e-8,7e-8,8e-8,9e-8,2e-7,3e-7,4e-7,5e-7,6e-7,7e-7,8e-7,9e-7,2e-6,3e-6,4e-6,5e-6,6e-6,7e-6,8e-6,9e-6,2e-5,3e-5,4e-5,5e-5,6e-5,7e-5,8e-5,9e-5], "tickSize": -2.5, "labels": false, "title": null}}
          }
        },
        {
          "data": {"name": "lab_c"},
          "mark": {"type": "text", "fontSize": 13, "align": "center", "baseline": "middle", "lineBreak": "\n", "lineHeight": 15},
          "encoding": {
            "x": {"field": "vd", "type": "quantitative", "axis": null},
            "y": {"field": "id", "type": "quantitative", "axis": null},
            "text": {"field": "label"}
          }
        }
      ]
    },
    {
      "width": 287, "height": 221,
      "resolve": {"axis": {"x": "independent", "y": "independent"}},
      "layer": [
        {
          "data": {"name": "d"},
          "mark": {"type": "line", "strokeWidth": 1.3},
          "encoding": {
            "x": {"field": "vd", "type": "quantitative", "scale": {"domain": [-6.25, 6.25], "nice": false, "zero": false}, "axis": {"orient": "bottom", "values": [-5, -2.5, 0, 2.5, 5], "labelExpr": "datum.value < 0 ? '-' + format(-datum.value, '.1f') : format(datum.value, '.1f')", "tickSize": -5, "labelPadding": 12, "title": "Vᴅ (V)", "titlePadding": 2}},
            "y": {"field": "id", "type": "quantitative", "scale": {"type": "log", "domain": [1e-12, 1e-2], "nice": false}, "axis": {"orient": "left", "values": [1e-12, 1e-11, 1e-10, 1e-9, 1e-8, 1e-7, 1e-6, 1e-5, 1e-4, 1e-3, 1e-2], "labelExpr": "abs(round(log(datum.value)/LN10)) % 2 == 0 ? '10⁻' + (abs(round(log(datum.value)/LN10)) >= 10 ? '¹' : '') + ['⁰','¹','²','³','⁴','⁵','⁶','⁷','⁸','⁹'][abs(round(log(datum.value)/LN10)) % 10] : ''", "labelFlush": true, "labelFontSize": 12, "tickSize": -5, "labelPadding": 7.5, "title": "Iᴅ (A)", "titlePadding": -2}},
            "color": {"field": "l", "type": "nominal", "scale": {"domain": ["Laser off", "Laser on"], "range": ["#000000", "#e8161e"]}, "legend": {"title": null, "orient": "bottom-left", "offset": 16}},
            "detail": {"field": "g", "type": "nominal"}
          }
        },
        {
          "data": {"values": [{}]},
          "mark": {"type": "point", "opacity": 0},
          "encoding": {
            "x": {"datum": 0, "type": "quantitative", "axis": {"orient": "bottom", "values": [-3.75, -1.25, 1.25, 3.75], "tickSize": -2.5, "labels": false, "title": null}},
            "y": {"datum": 1e-8, "type": "quantitative", "axis": {"orient": "left", "values": [2e-12,3e-12,4e-12,5e-12,6e-12,7e-12,8e-12,9e-12,2e-11,3e-11,4e-11,5e-11,6e-11,7e-11,8e-11,9e-11,2e-10,3e-10,4e-10,5e-10,6e-10,7e-10,8e-10,9e-10,2e-9,3e-9,4e-9,5e-9,6e-9,7e-9,8e-9,9e-9,2e-8,3e-8,4e-8,5e-8,6e-8,7e-8,8e-8,9e-8,2e-7,3e-7,4e-7,5e-7,6e-7,7e-7,8e-7,9e-7,2e-6,3e-6,4e-6,5e-6,6e-6,7e-6,8e-6,9e-6,2e-5,3e-5,4e-5,5e-5,6e-5,7e-5,8e-5,9e-5,2e-4,3e-4,4e-4,5e-4,6e-4,7e-4,8e-4,9e-4,2e-3,3e-3,4e-3,5e-3,6e-3,7e-3,8e-3,9e-3], "tickSize": -2.5, "labels": false, "title": null}}
          }
        },
        {
          "data": {"values": [{}]},
          "mark": {"type": "point", "opacity": 0},
          "encoding": {
            "x": {"datum": 0, "type": "quantitative", "axis": {"orient": "top", "values": [-5, -2.5, 0, 2.5, 5], "tickSize": -5, "labels": false, "title": null}},
            "y": {"datum": 1e-8, "type": "quantitative", "axis": {"orient": "right", "values": [1e-12, 1e-11, 1e-10, 1e-9, 1e-8, 1e-7, 1e-6, 1e-5, 1e-4, 1e-3, 1e-2], "tickSize": -5, "labels": false, "title": null}}
          }
        },
        {
          "data": {"values": [{}]},
          "mark": {"type": "point", "opacity": 0},
          "encoding": {
            "x": {"datum": 0, "type": "quantitative", "axis": {"orient": "top", "values": [-3.75, -1.25, 1.25, 3.75], "tickSize": -2.5, "labels": false, "title": null}},
            "y": {"datum": 1e-8, "type": "quantitative", "axis": {"orient": "right", "values": [2e-12,3e-12,4e-12,5e-12,6e-12,7e-12,8e-12,9e-12,2e-11,3e-11,4e-11,5e-11,6e-11,7e-11,8e-11,9e-11,2e-10,3e-10,4e-10,5e-10,6e-10,7e-10,8e-10,9e-10,2e-9,3e-9,4e-9,5e-9,6e-9,7e-9,8e-9,9e-9,2e-8,3e-8,4e-8,5e-8,6e-8,7e-8,8e-8,9e-8,2e-7,3e-7,4e-7,5e-7,6e-7,7e-7,8e-7,9e-7,2e-6,3e-6,4e-6,5e-6,6e-6,7e-6,8e-6,9e-6,2e-5,3e-5,4e-5,5e-5,6e-5,7e-5,8e-5,9e-5,2e-4,3e-4,4e-4,5e-4,6e-4,7e-4,8e-4,9e-4,2e-3,3e-3,4e-3,5e-3,6e-3,7e-3,8e-3,9e-3], "tickSize": -2.5, "labels": false, "title": null}}
          }
        },
        {
          "data": {"name": "arrow_d"},
          "mark": {"type": "rule", "color": "#7b98cc", "strokeWidth": 2},
          "encoding": {
            "x": {"field": "vd", "type": "quantitative", "axis": null},
            "y": {"field": "y1", "type": "quantitative", "axis": null},
            "y2": {"field": "y2"}
          }
        },
        {
          "data": {"name": "arrow_d"},
          "mark": {"type": "point", "shape": "M-1,0.9L0,0L1,0.9", "filled": false, "size": 130, "strokeWidth": 2, "color": "#7b98cc", "opacity": 1},
          "encoding": {
            "x": {"field": "vd", "type": "quantitative", "axis": null},
            "y": {"field": "y2", "type": "quantitative", "axis": null}
          }
        },
        {
          "data": {"name": "lab_d"},
          "mark": {"type": "text", "fontSize": 13, "align": "center", "baseline": "middle", "lineBreak": "\n", "lineHeight": 15},
          "encoding": {
            "x": {"field": "vd", "type": "quantitative", "axis": null},
            "y": {"field": "id", "type": "quantitative", "axis": null},
            "text": {"field": "label"}
          }
        },
        {
          "data": {"name": "lab_d2"},
          "mark": {"type": "text", "fontSize": 13, "align": "left", "baseline": "middle", "lineBreak": "\n", "lineHeight": 16},
          "encoding": {
            "x": {"field": "vd", "type": "quantitative", "axis": null},
            "y": {"field": "id", "type": "quantitative", "axis": null},
            "text": {"field": "label"}
          }
        }
      ]
    }
  ]
}
